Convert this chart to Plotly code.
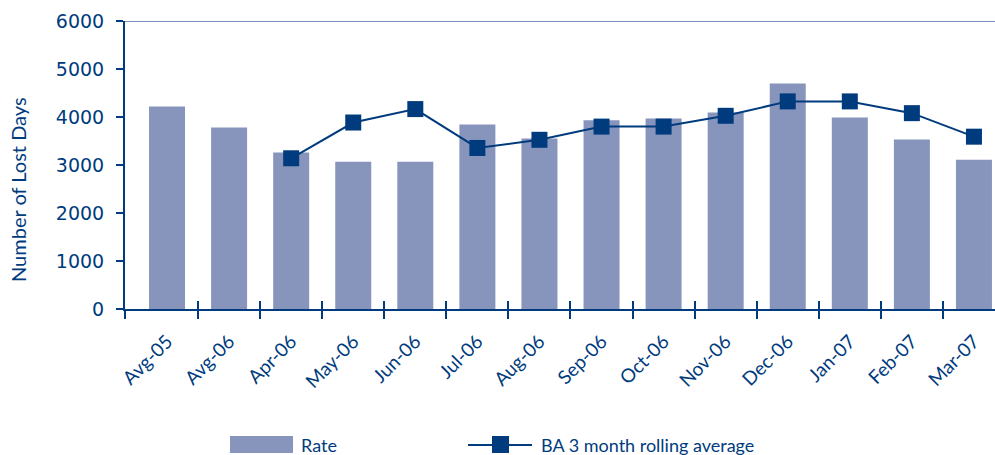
import plotly.graph_objects as go

categories = ["Avg-05", "Avg-06", "Apr-06", "May-06", "Jun-06", "Jul-06", "Aug-06",
              "Sep-06", "Oct-06", "Nov-06", "Dec-06", "Jan-07", "Feb-07", "Mar-07"]
rate = [4220, 3780, 3260, 3070, 3070, 3845, 3550, 3930, 3970, 4095, 4700, 3990, 3530, 3110]
rolling_avg = [None, None, 3140, 3885, 4165, 3355, 3525, 3800, 3800, 4025, 4325, 4325, 4080, 3590]
y_ticks = [0, 1000, 2000, 3000, 4000, 5000, 6000]
series_names = ["Rate", "BA 3 month rolling average"]
y_title = "Number of Lost Days"

DARK = "#003b7d"
BAR = "#8795bd"
TOPLINE = "#7f93c0"
FONT = "Lato, 'Open Sans', sans-serif"

PLOT_L, PLOT_R, PLOT_T, PLOT_B = 125, 995, 21, 309
X_RANGE = [-0.677, 13.339]

pos = list(range(len(categories)))
boundaries = [p + 0.5 for p in pos[:-1]]

fig = go.Figure()
fig.add_trace(go.Bar(x=pos, y=rate, name=series_names[0], marker_color=BAR,
                     marker_line_width=0, width=0.58, showlegend=False,
                     customdata=categories,
                     hovertemplate="%{customdata}: %{y}<extra>Rate</extra>"))
fig.add_trace(go.Scatter(x=pos, y=rolling_avg, name=series_names[1],
                         mode="lines+markers", line=dict(color=DARK, width=2),
                         marker=dict(symbol="square", size=16, color=DARK),
                         showlegend=False, customdata=categories,
                         hovertemplate="%{customdata}: %{y}<extra></extra>"))
# invisible helper trace so the upper tick stubs axis is drawn
fig.add_trace(go.Scatter(x=[pos[0]], y=[0], xaxis="x2", mode="markers",
                         marker=dict(opacity=0), showlegend=False, hoverinfo="skip"))

fig.update_layout(
    width=995, height=455,
    margin=dict(l=PLOT_L, r=995 - PLOT_R, t=PLOT_T, b=455 - PLOT_B, autoexpand=False),
    plot_bgcolor="white", paper_bgcolor="white",
    font=dict(family=FONT, color=DARK),
    showlegend=False,
    xaxis=dict(range=X_RANGE, tickmode="array", tickvals=pos, ticktext=categories,
               showline=True, linecolor=DARK, linewidth=2, ticks="", tickangle=-45,
               tickfont=dict(size=19, color=DARK, family=FONT), showgrid=False,
               zeroline=False, automargin=False, ticklabelstandoff=12,
               minor=dict(tickmode="array", tickvals=[X_RANGE[0]] + boundaries,
                          ticks="outside", ticklen=8, tickwidth=2, tickcolor=DARK,
                          showgrid=False)),
    xaxis2=dict(range=X_RANGE, overlaying="x", side="bottom", anchor="y",
                tickmode="array", tickvals=boundaries, ticks="inside", ticklen=8,
                tickwidth=2, tickcolor=DARK, showticklabels=False, showline=False,
                showgrid=False, zeroline=False, automargin=False),
    yaxis=dict(range=[0, 6000], tickvals=y_ticks, showline=True, linecolor=DARK,
               linewidth=2, ticks="outside", ticklen=7, tickwidth=2, tickcolor=DARK,
               tickfont=dict(size=19, color=DARK, family="DejaVu Sans"),
               showgrid=False, zeroline=False, automargin=False, ticklabelstandoff=8),
)

# top border of plot area
fig.add_shape(type="line", xref="paper", yref="y", x0=0, x1=1, y0=6000, y1=6000,
              line=dict(color=TOPLINE, width=2))

# pixel -> paper helpers for legend / title placement
def px_x(p):
    return (p - PLOT_L) / float(PLOT_R - PLOT_L)

def px_y(p):
    return (PLOT_B - p) / float(PLOT_B - PLOT_T)

fig.add_annotation(text=y_title, xref="paper", yref="paper", x=px_x(18), y=px_y(190),
                   xanchor="center", yanchor="middle", textangle=-90, showarrow=False,
                   font=dict(size=20, color=DARK, family=FONT))

# custom legend
fig.add_shape(type="rect", xref="paper", yref="paper",
              x0=px_x(230), x1=px_x(293), y0=px_y(453), y1=px_y(436),
              fillcolor=BAR, line=dict(width=0))
fig.add_annotation(text=series_names[0], xref="paper", yref="paper",
                   x=px_x(299), y=px_y(445), xanchor="left", yanchor="middle",
                   showarrow=False, font=dict(size=18, color=DARK, family=FONT))
fig.add_shape(type="line", xref="paper", yref="paper",
              x0=px_x(468), x1=px_x(532), y0=px_y(445), y1=px_y(445),
              line=dict(color=DARK, width=2))
fig.add_shape(type="rect", xref="paper", yref="paper",
              x0=px_x(492), x1=px_x(509), y0=px_y(453), y1=px_y(436),
              fillcolor=DARK, line=dict(width=0))
fig.add_annotation(text=series_names[1], xref="paper", yref="paper",
                   x=px_x(539), y=px_y(445), xanchor="left", yanchor="middle",
                   showarrow=False, font=dict(size=18, color=DARK, family=FONT))

fig.write_html("out.html", config={"displayModeBar": False},
               post_script="document.body.style.margin='0';document.body.style.overflow='hidden';")
